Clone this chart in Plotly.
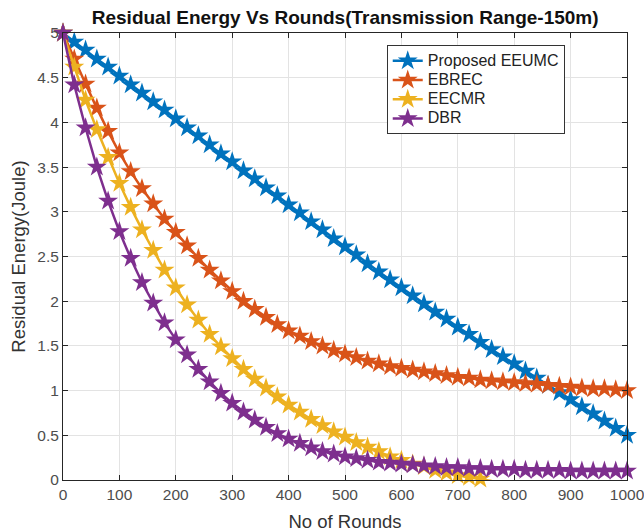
import plotly.graph_objects as go

rounds = list(range(0, 1001, 20))
rounds_eecmr = list(range(0, 781, 20))

proposed_eeumc = [5.00, 4.90, 4.81, 4.71, 4.62, 4.52, 4.42, 4.33, 4.23, 4.14,
                  4.04, 3.94, 3.85, 3.75, 3.65, 3.56, 3.46, 3.37, 3.27, 3.18,
                  3.08, 2.99, 2.89, 2.80, 2.70, 2.61, 2.52, 2.42, 2.33, 2.24,
                  2.15, 2.06, 1.97, 1.88, 1.80, 1.71, 1.63, 1.54, 1.46, 1.38,
                  1.30, 1.22, 1.14, 1.06, 0.98, 0.90, 0.82, 0.74, 0.66, 0.58,
                  0.50]
ebrec = [5.00, 4.71, 4.43, 4.16, 3.90, 3.66, 3.45, 3.26, 3.09, 2.92,
         2.77, 2.62, 2.48, 2.35, 2.23, 2.11, 2.00, 1.91, 1.82, 1.74,
         1.67, 1.61, 1.55, 1.50, 1.45, 1.41, 1.37, 1.33, 1.30, 1.27,
         1.25, 1.23, 1.21, 1.19, 1.17, 1.15, 1.14, 1.12, 1.11, 1.10,
         1.09, 1.08, 1.07, 1.06, 1.05, 1.04, 1.03, 1.02, 1.02, 1.01,
         1.00]
eecmr = [5.00, 4.62, 4.25, 3.92, 3.61, 3.32, 3.05, 2.80, 2.57, 2.35,
         2.15, 1.96, 1.79, 1.63, 1.49, 1.36, 1.24, 1.13, 1.03, 0.93,
         0.84, 0.76, 0.68, 0.61, 0.54, 0.48, 0.42, 0.37, 0.32, 0.26,
         0.22, 0.18, 0.15, 0.11, 0.08, 0.05, 0.03, 0.01, -0.01, -0.02]
dbr = [5.00, 4.42, 3.94, 3.50, 3.12, 2.78, 2.48, 2.21, 1.98, 1.76,
       1.57, 1.40, 1.24, 1.10, 0.97, 0.86, 0.76, 0.67, 0.59, 0.52,
       0.46, 0.41, 0.36, 0.32, 0.29, 0.26, 0.24, 0.22, 0.20, 0.19,
       0.18, 0.17, 0.16, 0.15, 0.14, 0.14, 0.13, 0.13, 0.12, 0.12,
       0.12, 0.11, 0.11, 0.11, 0.11, 0.10, 0.10, 0.10, 0.10, 0.10,
       0.10]

series_names = ["Proposed EEUMC", "EBREC", "EECMR", "DBR"]
series_colors = ["#0072BD", "#D95319", "#EDB120", "#7E2F8E"]

x_ticks = list(range(0, 1001, 100))
x_ticktext = [str(v) for v in x_ticks]
y_ticks = [0, 0.5, 1, 1.5, 2, 2.5, 3, 3.5, 4, 4.5, 5]
y_ticktext = ["0", "0.5", "1", "1.5", "2", "2.5", "3", "3.5", "4", "4.5", "5"]

fig = go.Figure()
for name, xs, ys, col in zip(series_names,
                             [rounds, rounds, rounds_eecmr, rounds],
                             [proposed_eeumc, ebrec, eecmr, dbr],
                             series_colors):
    fig.add_trace(go.Scatter(
        x=xs, y=ys,
        name="<span style='font-size:16px'>" + name + "</span>",
        mode="lines+markers",
        line=dict(color=col, width=2.5),
        marker=dict(symbol="star", size=15, color=col, line=dict(width=0)),
        cliponaxis=False,
    ))

font_family = "Liberation Sans, Arial, sans-serif"
axis_common = dict(
    showline=True, linecolor="#262626", linewidth=1, mirror="ticks",
    ticks="inside", ticklen=5, tickcolor="#262626",
    showgrid=True, gridcolor="#e3e3e3", gridwidth=1,
    zeroline=False, ticklabeloverflow="allow",
    tickfont=dict(family=font_family, size=15.5, color="#4d4d4d"),
)

fig.update_layout(
    width=644, height=532,
    margin=dict(l=63, r=17, t=33, b=52, autoexpand=False),
    paper_bgcolor="white", plot_bgcolor="white",
    title=dict(text="<b>Residual Energy Vs Rounds(Transmission Range-150m)</b>",
               x=0.536, xanchor="center", y=0.968, yanchor="middle",
               font=dict(family=font_family, size=19, color="#111111")),
    xaxis=dict(range=[0, 1000], tickvals=x_ticks, ticktext=x_ticktext,
               automargin=False,
               title=dict(text="No of Rounds",
                          font=dict(family=font_family, size=18.5, color="#333333")),
               **axis_common),
    yaxis=dict(range=[0, 5], tickvals=y_ticks, ticktext=y_ticktext,
               automargin=True,
               title=dict(text="Residual Energy(Joule)", standoff=6,
                          font=dict(family=font_family, size=18.5, color="#333333")),
               **axis_common),
    legend=dict(x=0.574, y=0.973, xanchor="left", yanchor="top",
                bgcolor="white", bordercolor="#333333", borderwidth=1,
                font=dict(family=font_family, size=12.5, color="#222222"),
                tracegroupgap=0, itemwidth=30),
    showlegend=True,
)

fig.write_html("out.html")
